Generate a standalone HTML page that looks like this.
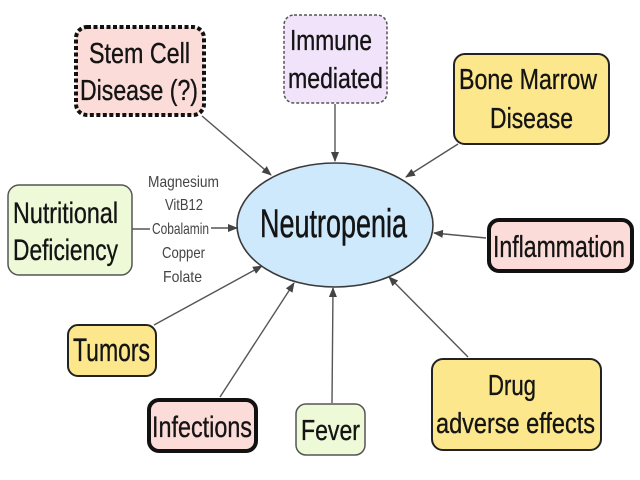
<!DOCTYPE html>
<html>
<head>
<meta charset="utf-8">
<style>
  html,body{margin:0;padding:0;background:#fff;}
  svg{display:block;}
  text{font-family:"Liberation Sans",Arial,sans-serif;fill:#141414;stroke:#141414;stroke-width:0.35;}
  .sm{fill:#444;stroke:none;font-size:16px;}
</style>
</head>
<body>
<svg width="640" height="480" viewBox="0 0 640 480" xmlns="http://www.w3.org/2000/svg">
  <defs>
    <marker id="ah" markerWidth="10" markerHeight="8" refX="9" refY="4" orient="auto" markerUnits="userSpaceOnUse">
      <path d="M0,0 L10,4 L0,8 Z" fill="#444"/>
    </marker>
  </defs>
  <rect width="640" height="480" fill="#fff"/>

  <!-- connectors -->
  <g stroke="#555" stroke-width="1.4" fill="none">
    <line x1="202" y1="116" x2="271" y2="175" marker-end="url(#ah)"/>
    <line x1="335" y1="104" x2="335" y2="161" marker-end="url(#ah)"/>
    <line x1="458" y1="144" x2="406" y2="177" marker-end="url(#ah)"/>
    <line x1="486" y1="238" x2="434" y2="233" marker-end="url(#ah)"/>
    <line x1="132" y1="229" x2="150" y2="229"/>
    <line x1="211" y1="228" x2="237" y2="228" marker-end="url(#ah)"/>
    <line x1="154" y1="325" x2="262" y2="266" marker-end="url(#ah)"/>
    <line x1="220" y1="397" x2="294" y2="283" marker-end="url(#ah)"/>
    <line x1="332" y1="403" x2="333" y2="288" marker-end="url(#ah)"/>
    <line x1="468" y1="357" x2="389" y2="277" marker-end="url(#ah)"/>
  </g>

  <!-- central ellipse -->
  <ellipse cx="335" cy="225" rx="98" ry="62" fill="#cde9fb" stroke="#3a3a3a" stroke-width="1.6"/>
  <text x="260" y="237" font-size="40" style="stroke-width:0.5" textLength="147" lengthAdjust="spacingAndGlyphs">Neutropenia</text>

  <!-- Stem Cell -->
  <rect x="76" y="27" width="128" height="88" rx="11" fill="#fbdcd8" stroke="#111" stroke-width="4" stroke-dasharray="4 2.5"/>
  <text x="89" y="63" font-size="29" textLength="101" lengthAdjust="spacingAndGlyphs">Stem Cell</text>
  <text x="80" y="100" font-size="29" textLength="118" lengthAdjust="spacingAndGlyphs">Disease (?)</text>

  <!-- Immune mediated -->
  <rect x="284" y="15" width="103" height="88" rx="10" fill="#f1e3fa" stroke="#555" stroke-width="1.5" stroke-dasharray="3 2"/>
  <text x="290" y="50" font-size="29" textLength="82" lengthAdjust="spacingAndGlyphs">Immune</text>
  <text x="288" y="88" font-size="29" textLength="95" lengthAdjust="spacingAndGlyphs">mediated</text>

  <!-- Bone Marrow -->
  <rect x="454" y="54" width="155" height="90" rx="11" fill="#fce78c" stroke="#222" stroke-width="2"/>
  <text x="459" y="89" font-size="29" textLength="138" lengthAdjust="spacingAndGlyphs">Bone Marrow</text>
  <text x="490" y="128" font-size="29" textLength="83" lengthAdjust="spacingAndGlyphs">Disease</text>

  <!-- Inflammation -->
  <rect x="489" y="220" width="143" height="51" rx="10" fill="#fcdcd8" stroke="#111" stroke-width="4"/>
  <text x="493" y="257" font-size="31" textLength="132" lengthAdjust="spacingAndGlyphs">Inflammation</text>

  <!-- Nutritional Deficiency -->
  <rect x="8" y="185" width="124" height="90" rx="11" fill="#eefad7" stroke="#555" stroke-width="1.5"/>
  <text x="13" y="223" font-size="30" textLength="105" lengthAdjust="spacingAndGlyphs">Nutritional</text>
  <text x="13" y="260" font-size="30" textLength="105" lengthAdjust="spacingAndGlyphs">Deficiency</text>

  <!-- nutrient labels -->
  <text class="sm" x="148" y="187" textLength="71" lengthAdjust="spacingAndGlyphs">Magnesium</text>
  <text class="sm" x="165" y="210" textLength="38" lengthAdjust="spacingAndGlyphs">VitB12</text>
  <text class="sm" x="152" y="234" textLength="57" lengthAdjust="spacingAndGlyphs">Cobalamin</text>
  <text class="sm" x="162" y="258" textLength="43" lengthAdjust="spacingAndGlyphs">Copper</text>
  <text class="sm" x="163" y="282" textLength="39" lengthAdjust="spacingAndGlyphs">Folate</text>

  <!-- Tumors -->
  <rect x="68" y="325" width="88" height="51" rx="10" fill="#fce78c" stroke="#222" stroke-width="2"/>
  <text x="73" y="361" font-size="32" textLength="77" lengthAdjust="spacingAndGlyphs">Tumors</text>

  <!-- Infections -->
  <rect x="149" y="400" width="107" height="51" rx="10" fill="#fcdcd8" stroke="#111" stroke-width="4"/>
  <text x="152" y="437" font-size="30" textLength="100" lengthAdjust="spacingAndGlyphs">Infections</text>

  <!-- Fever -->
  <rect x="296" y="404" width="69" height="51" rx="10" fill="#eefad7" stroke="#555" stroke-width="1.5"/>
  <text x="301" y="440" font-size="29" textLength="59" lengthAdjust="spacingAndGlyphs">Fever</text>

  <!-- Drug adverse effects -->
  <rect x="432" y="359" width="169" height="91" rx="11" fill="#fce78c" stroke="#222" stroke-width="2"/>
  <text x="488" y="395" font-size="29" textLength="48" lengthAdjust="spacingAndGlyphs">Drug</text>
  <text x="436" y="433" font-size="29" textLength="159" lengthAdjust="spacingAndGlyphs">adverse effects</text>
</svg>
</body>
</html>
